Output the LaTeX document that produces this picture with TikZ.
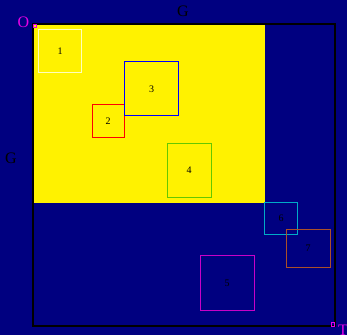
\documentclass[tikz,border=0pt]{standalone}
\usepackage{fontspec}
\setmainfont{Liberation Serif}
\begin{document}
\begin{tikzpicture}[x=1pt,y=-1pt,
  box/.style={draw, line width=1pt, minimum width=#1, inner sep=0pt, font=\fontsize{10}{10}\selectfont, text=black},
  bigl/.style={font=\fontsize{16}{16}\selectfont, inner sep=0pt},
  marker/.style={draw=magenta!90!white, line width=0.8pt, minimum size=3.5pt, inner sep=0pt}]
\definecolor{bgnavy}{RGB}{0,0,128}
\definecolor{boxone}{RGB}{255,255,190}
\definecolor{boxfour}{RGB}{100,200,0}
\definecolor{boxsix}{RGB}{0,170,200}
\definecolor{boxseven}{RGB}{170,80,40}
\definecolor{boxfive}{RGB}{200,0,200}
\definecolor{magc}{RGB}{230,0,230}
\fill[bgnavy] (0,0) rectangle (347,335);
\useasboundingbox (0,0) rectangle (347,335);
\fill[yellow] (33,24) rectangle (265,203);
\draw[black, line width=1.3pt] (33,24) rectangle (335,326);
\node[box=43.4pt, draw=boxone, minimum height=43pt] (b1) at (60,50.8) {1};
\node[box=32.3pt, draw=red, minimum height=32.7pt] (b2) at (108.2,121.3) {2};
\node[box=54.4pt, draw=blue, minimum height=53.7pt] (b3) at (151.5,88.8) {3};
\node[box=43.7pt, draw=boxfour, minimum height=54pt] (b4) at (189.2,170) {4};
\node[box=54.3pt, draw=boxfive, minimum height=54.7pt] (b5) at (227.2,283.3) {5};
\node[box=33.4pt, draw=boxsix, minimum height=32.4pt] (b6) at (281,218.5) {6};
\node[box=43.7pt, draw=boxseven, minimum height=38pt] (b7) at (308.2,248.3) {7};
\node[marker, draw=magc] (mo) at (35,26) {};
\node[marker, draw=magc] (mt) at (333,324.5) {};
\node[bigl, text=magc] (lo) at (23.5,22) {O};
\node[bigl, text=magc] (lt) at (343,330) {T};
\node[bigl, text=black] (gt) at (183,11) {G};
\node[bigl, text=black] (gl) at (11,158) {G};
\end{tikzpicture}
\end{document}
